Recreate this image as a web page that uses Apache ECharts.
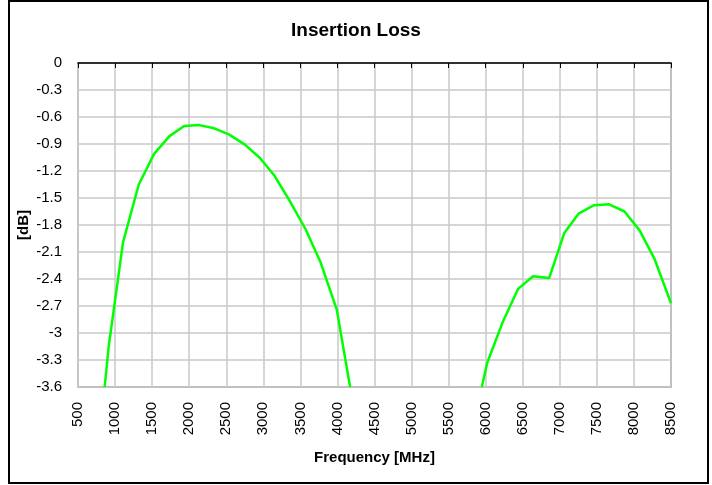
<!DOCTYPE html>
<html>
<head>
<meta charset="utf-8">
<script src="https://cdn.jsdelivr.net/npm/echarts@6/dist/echarts.min.js"></script>
<style>
  html, body {margin: 0; padding: 0; background: #fff;}
  #main {width: 712px; height: 485px;}
</style>
</head>
<body>
<div id="main"></div>
<script>
// lower band (MHz / dB)
const freqLow = [860, 914, 1108, 1320, 1527, 1730, 1932, 2135, 2338, 2541, 2752, 2955, 3149, 3360, 3572, 3775, 3991, 4171]
const lossLow = [-3.6, -3.15, -1.99, -1.35, -1.01, -0.815, -0.70, -0.69, -0.726, -0.796, -0.907, -1.056, -1.25, -1.537, -1.85, -2.22, -2.74, -3.6]

// upper band
const freqHigh = [5948, 6021, 6224, 6436, 6640, 6856, 7060, 7258, 7462, 7665, 7873, 8076, 8279, 8500]
const lossHigh = [-3.6, -3.33, -2.89, -2.51, -2.37, -2.39, -1.89, -1.67, -1.58, -1.57, -1.65, -1.86, -2.18, -2.67]

const zip = (xs, ys) => xs.map((x, i) => [x, ys[i]])

const font = 'Arial, "Liberation Sans", sans-serif'

let chart = echarts.init(document.getElementById('main'))

let option = {
  animation: false,
  backgroundColor: '#fff',
  title: {
    text: 'Insertion Loss',
    left: 'center',
    top: 16,
    textStyle: {fontFamily: font, fontSize: 19, fontWeight: 'bold', color: '#000'}
  },
  grid: {
    left: 78,
    right: 41,
    top: 63,
    bottom: 98,
    show: true,
    borderColor: '#8c8c8c',
    borderWidth: 1.5
  },
  xAxis: {
    type: 'value',
    min: 500,
    max: 8500,
    interval: 500,
    name: 'Frequency [MHz]',
    nameLocation: 'middle',
    nameGap: 63,
    nameTextStyle: {fontFamily: font, fontSize: 15, fontWeight: 'bold', color: '#000'},
    axisLine: {lineStyle: {color: '#000', width: 1.5}},
    axisTick: {show: true, length: 5, lineStyle: {color: '#000'}},
    axisLabel: {
      rotate: 90,
      margin: 15,
      fontFamily: font,
      fontSize: 15,
      color: '#000',
      formatter: v => String(v)
    },
    splitLine: {lineStyle: {color: '#c8c8c8', width: 1.5}}
  },
  yAxis: {
    type: 'value',
    min: -3.6,
    max: 0,
    interval: 0.3,
    name: '[dB]',
    nameLocation: 'middle',
    nameGap: 47,
    nameMoveOverlap: false,
    nameTextStyle: {fontFamily: font, fontSize: 15, fontWeight: 'bold', color: '#000'},
    axisLine: {show: true, lineStyle: {color: '#c8c8c8', width: 1.5}},
    axisTick: {show: false},
    axisLabel: {
      margin: 16,
      fontFamily: font,
      fontSize: 15,
      color: '#000',
      formatter: v => String(+v.toFixed(1))
    },
    splitLine: {lineStyle: {color: '#c8c8c8', width: 1.5}}
  },
  graphic: [{
    type: 'rect',
    shape: {x: 9, y: 1, width: 699, height: 482},
    style: {fill: 'none', stroke: '#000', lineWidth: 2},
    silent: true
  }],
  series: [
    {
      type: 'line',
      data: zip(freqLow, lossLow),
      showSymbol: false,
      lineStyle: {color: '#00ff00', width: 2.5}
    },
    {
      type: 'line',
      data: zip(freqHigh, lossHigh),
      showSymbol: false,
      lineStyle: {color: '#00ff00', width: 2.5}
    }
  ]
}

chart.setOption(option)
</script>
</body>
</html>
